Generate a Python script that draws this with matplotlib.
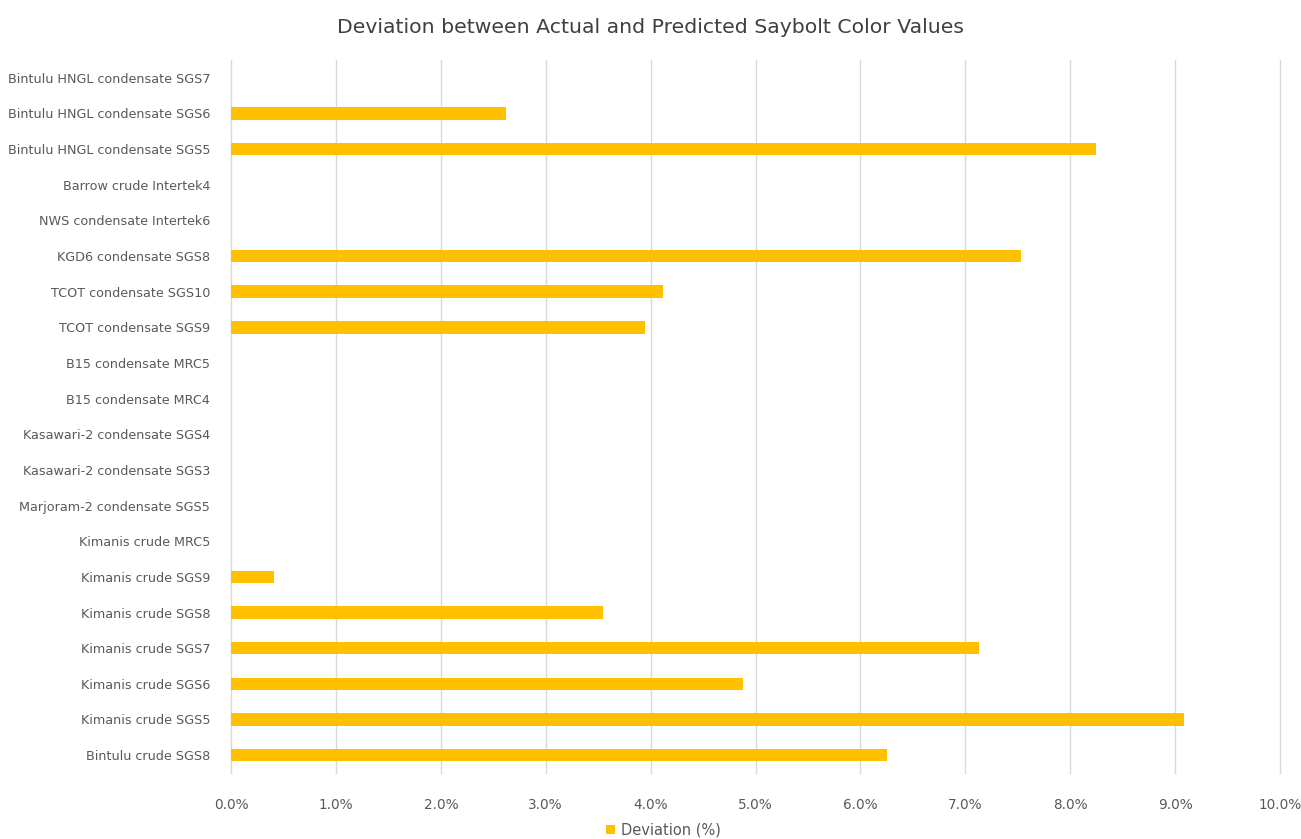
import matplotlib
matplotlib.use("Agg")
import matplotlib.pyplot as plt
from matplotlib.ticker import FuncFormatter
from matplotlib.patches import Patch

# samples, bottom to top as they appear on the chart
samples = [
    "Bintulu crude SGS8",
    "Kimanis crude SGS5",
    "Kimanis crude SGS6",
    "Kimanis crude SGS7",
    "Kimanis crude SGS8",
    "Kimanis crude SGS9",
    "Kimanis crude MRC5",
    "Marjoram-2 condensate SGS5",
    "Kasawari-2 condensate SGS3",
    "Kasawari-2 condensate SGS4",
    "B15 condensate MRC4",
    "B15 condensate MRC5",
    "TCOT condensate SGS9",
    "TCOT condensate SGS10",
    "KGD6 condensate SGS8",
    "NWS condensate Intertek6",
    "Barrow crude Intertek4",
    "Bintulu HNGL condensate SGS5",
    "Bintulu HNGL condensate SGS6",
    "Bintulu HNGL condensate SGS7",
]
# deviation in %
deviation = [6.25, 9.08, 4.88, 7.13, 3.55, 0.41, 0, 0, 0, 0,
             0, 0, 3.95, 4.12, 7.53, 0, 0, 8.25, 2.62, 0]

bar_color = "#FFC000"
text_color = "#595959"

fig = plt.figure(figsize=(13.01, 8.39), dpi=100)
ax = fig.add_axes([0.1776, 0.0787, 0.8063, 0.8498])

ax.barh(range(len(samples)), deviation, height=0.35, color=bar_color, zorder=3)

ax.set_xlim(0, 10)
ax.set_ylim(-0.5, len(samples) - 0.5)
ax.set_xticks(range(0, 11))
ax.xaxis.set_major_formatter(FuncFormatter(lambda v, p: "%.1f%%" % v))
ax.set_yticks(range(len(samples)))
ax.set_yticklabels(samples)

ax.grid(axis="x", color="#D9D9D9", linewidth=1, zorder=0)
for gl in ax.get_xgridlines():
    gl.set_clip_on(False)
for s in ["top", "right", "bottom"]:
    ax.spines[s].set_visible(False)
ax.spines["left"].set_color("#D9D9D9")
ax.tick_params(axis="both", length=0, colors=text_color)
ax.tick_params(axis="x", pad=18, labelsize=9.8)
ax.tick_params(axis="y", pad=15, labelsize=9.2)

fig.suptitle("Deviation between Actual and Predicted Saybolt Color Values",
             y=0.978, fontsize=14.7, color="#404040")

handle = Patch(facecolor=bar_color, edgecolor="none")
fig.legend([handle], ["Deviation (%)"], loc="lower center",
           bbox_to_anchor=(0.51, -0.014), frameon=False, fontsize=10.5,
           labelcolor=text_color, handlelength=0.6, handleheight=0.6,
           handletextpad=0.4)

fig.savefig("out.png", dpi=100)
